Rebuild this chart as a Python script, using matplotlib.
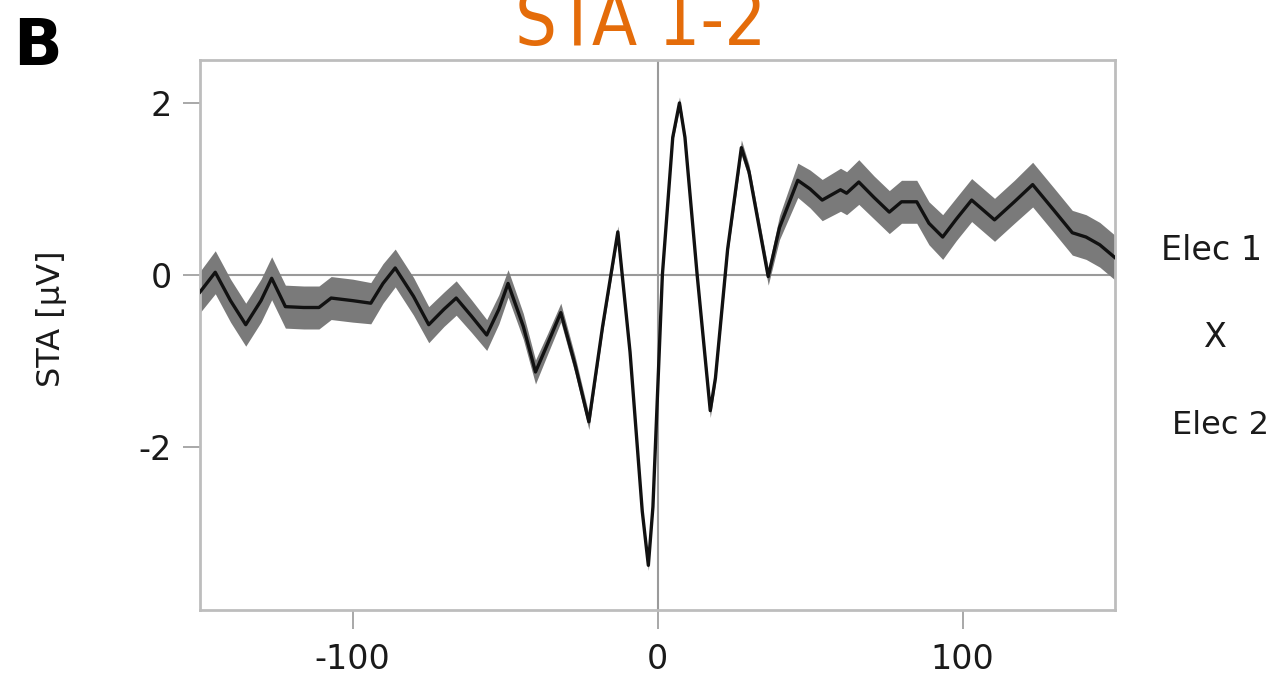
import numpy as np
import matplotlib
matplotlib.use('Agg')
import matplotlib.pyplot as plt

# STA trace (time lag in ms, STA in uV, band half-width)
lag = [-150, -145, -140, -135, -130, -126.5, -122, -116, -111, -107, -100, -94,
       -90, -86, -80, -75, -70, -66, -61, -56, -52, -49, -44, -40, -36, -31.7,
       -27, -22.5, -18, -13, -9, -5, -3, -1.5, 1.6, 5, 7.2, 9, 13, 17.3,
       19, 23, 27.5, 30, 36.3, 40, 46, 50, 54, 60, 62, 66, 71, 76, 80, 85, 89,
       93.5, 98, 103, 110.5, 117, 123, 130, 136, 140.5, 145, 150]
sta = [-0.20, 0.03, -0.30, -0.58, -0.30, -0.04, -0.37, -0.38, -0.38, -0.27, -0.30, -0.33,
       -0.10, 0.08, -0.25, -0.58, -0.40, -0.27, -0.48, -0.70, -0.40, -0.10, -0.60, -1.13, -0.80, -0.44,
       -1.05, -1.71, -0.60, 0.50, -0.90, -2.75, -3.38, -2.70, 0.00, 1.60, 2.00, 1.60, 0.00, -1.58,
       -1.20, 0.30, 1.48, 1.20, -0.02, 0.55, 1.10, 1.00, 0.87, 0.99, 0.95, 1.08, 0.90, 0.73, 0.85, 0.85, 0.60,
       0.44, 0.65, 0.87, 0.64, 0.85, 1.05, 0.75, 0.49, 0.44, 0.35, 0.20]
sem = [0.24, 0.25, 0.25, 0.25, 0.25, 0.25, 0.25, 0.25, 0.25, 0.25, 0.25, 0.24,
       0.23, 0.22, 0.22, 0.21, 0.20, 0.20, 0.19, 0.18, 0.17, 0.16, 0.15, 0.14, 0.12, 0.11,
       0.10, 0.09, 0.07, 0.07, 0.05, 0.05, 0.06, 0.05, 0.04, 0.05, 0.07, 0.05, 0.05, 0.08,
       0.07, 0.07, 0.09, 0.08, 0.10, 0.14, 0.20, 0.22, 0.24, 0.25, 0.25, 0.26, 0.25, 0.25, 0.25, 0.25, 0.25,
       0.26, 0.25, 0.25, 0.25, 0.25, 0.26, 0.26, 0.26, 0.26, 0.26, 0.26]

xticks = [-100, 0, 100]
yticks = [-2, 0, 2]
elec_labels = ['Elec 1', 'X', 'Elec 2']

lag = np.array(lag)
sta = np.array(sta)
sem = np.array(sem)

fig = plt.figure(figsize=(12.77, 6.85), dpi=100)
ax = fig.add_axes([200 / 1277, 75 / 685, 915 / 1277, 550 / 685])

frame_col = '#bdbdbd'
ax.axhline(0, color='#9a9a9a', lw=1.5, zorder=1)
ax.axvline(0, color='#9a9a9a', lw=1.5, zorder=1)
ax.fill_between(lag, sta - sem, sta + sem, color='#7a7a7a', lw=0, zorder=2)
ax.plot(lag, sta, color='#111111', lw=2.4, zorder=3)

ax.set_xlim(-150, 150)
ax.set_ylim(-3.9, 2.5)
ax.set_xticks(xticks)
ax.set_yticks(yticks)
ax.set_xticklabels([str(t) for t in xticks])
ax.set_yticklabels([str(t) for t in yticks])
for s in ax.spines.values():
    s.set_color(frame_col)
    s.set_linewidth(2)
ax.tick_params(axis='x', direction='out', length=14, width=1.2, color='#999999',
               pad=10, labelsize=24, labelcolor='#1a1a1a')
ax.tick_params(axis='y', direction='out', length=12, width=1.2, color='#999999',
               pad=8, labelsize=24, labelcolor='#1a1a1a')
ax.set_ylabel('STA [\u03bcV]', fontsize=23, color='#1a1a1a')
ax.yaxis.set_label_coords(-0.145, 0.53)

# panel letter and title
fig.text(13 / 1277, 1 - 65 / 685, 'B', fontsize=46, fontweight='bold', color='black',
         va='baseline', ha='left')
fig.text(641 / 1277, 1 - 45 / 685, 'STA 1-2', fontsize=53, color='#e46c0a',
         fontstretch='condensed', fontweight='light', va='baseline', ha='center')

# electrode pair label on the right
fig.text(1212 / 1277, 1 - 250 / 685, elec_labels[0], fontsize=24, color='#1a1a1a',
         ha='center', va='center')
fig.text(1215 / 1277, 1 - 337 / 685, elec_labels[1], fontsize=24, color='#1a1a1a',
         ha='center', va='center')
fig.text(1269 / 1277, 1 - 425 / 685, elec_labels[2], fontsize=23, color='#1a1a1a',
         ha='right', va='center')

fig.savefig('out.png', dpi=100)
